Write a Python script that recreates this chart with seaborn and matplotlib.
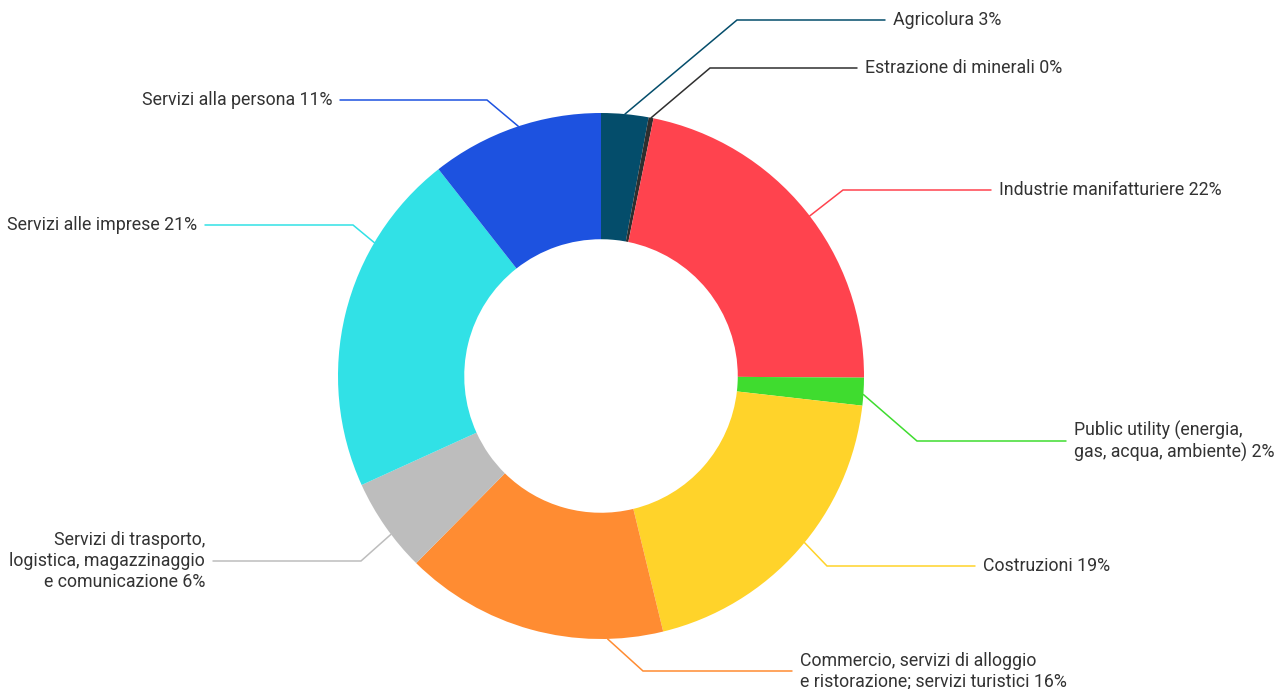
import numpy as np
import matplotlib
matplotlib.use("Agg")
import matplotlib.pyplot as plt
import seaborn as sns
from matplotlib import font_manager

sns.set_theme(style="white")

# Sector shares of the total (%)
sectors = [
    "Agricolura",
    "Estrazione di minerali",
    "Industrie manifatturiere",
    "Public utility (energia,\ngas, acqua, ambiente)",
    "Costruzioni",
    "Commercio, servizi di alloggio\ne ristorazione; servizi turistici",
    "Servizi di trasporto,\nlogistica, magazzinaggio\ne comunicazione",
    "Servizi alle imprese",
    "Servizi alla persona",
]
shares = [2.9, 0.3, 21.9, 1.7, 19.4, 16.2, 5.8, 21.2, 10.6]
colors = ["#044d6b", "#2f2f2f", "#ff434e", "#3fdc2f", "#ffd32a",
          "#ff8c32", "#bdbdbd", "#31e1e6", "#1d52e0"]

# Label layout in figure pixels: where along each wedge the leader starts,
# the elbow point and the end of the horizontal leader
anchor_frac = [0.5, 0.5, 0.52, 0.6, 0.47, 0.21, 0.4, 0.72, 0.52]
elbows = [(737, 20), (710, 68), (843, 190), (917, 441), (827, 566),
          (643, 671), (361, 561), (353, 225), (487, 100)]
line_ends = [885, 857, 991, 1066, 975, 792, 213, 205, 340]

names = {f.name for f in font_manager.fontManager.ttflist}
family = "Liberation Sans Narrow" if "Liberation Sans Narrow" in names else "Roboto"
plt.rcParams["font.family"] = [family, "DejaVu Sans"]

W, H = 1274, 689
fig = plt.figure(figsize=(W / 100, H / 100), dpi=100)
ax = fig.add_axes([0, 0, 1, 1])

cx, cy, R = 601, 376, 263
# y axis runs downward, so a data-space counterclockwise sweep is clockwise on screen
wedges, _ = ax.pie(shares, colors=colors, startangle=-90, counterclock=True,
                   center=(cx, cy), radius=R, frame=True,
                   wedgeprops=dict(width=R * 0.48, linewidth=0))
ax.set_xlim(0, W)
ax.set_ylim(H, 0)
ax.set_aspect("equal")
ax.axis("off")

for w, name, val, col, f, (ex, ey), lx in zip(wedges, sectors, shares, colors,
                                              anchor_frac, elbows, line_ends):
    theta = np.deg2rad(w.theta1 + f * (w.theta2 - w.theta1))
    sx = cx + R * np.cos(theta)
    sy = cy + R * np.sin(theta)
    ax.plot([sx, ex, lx], [sy, ey, ey], color=col, lw=1.1,
            solid_joinstyle="miter", zorder=1)
    right = lx > ex
    label = f"{name} {round(val):.0f}%"
    ax.text(lx + (8 if right else -8), ey, label,
            ha="left" if right else "right", va="center",
            multialignment="left" if right else "right",
            fontsize=12.8, color="#333333", linespacing=1.2)

fig.savefig("out.png", dpi=100)
